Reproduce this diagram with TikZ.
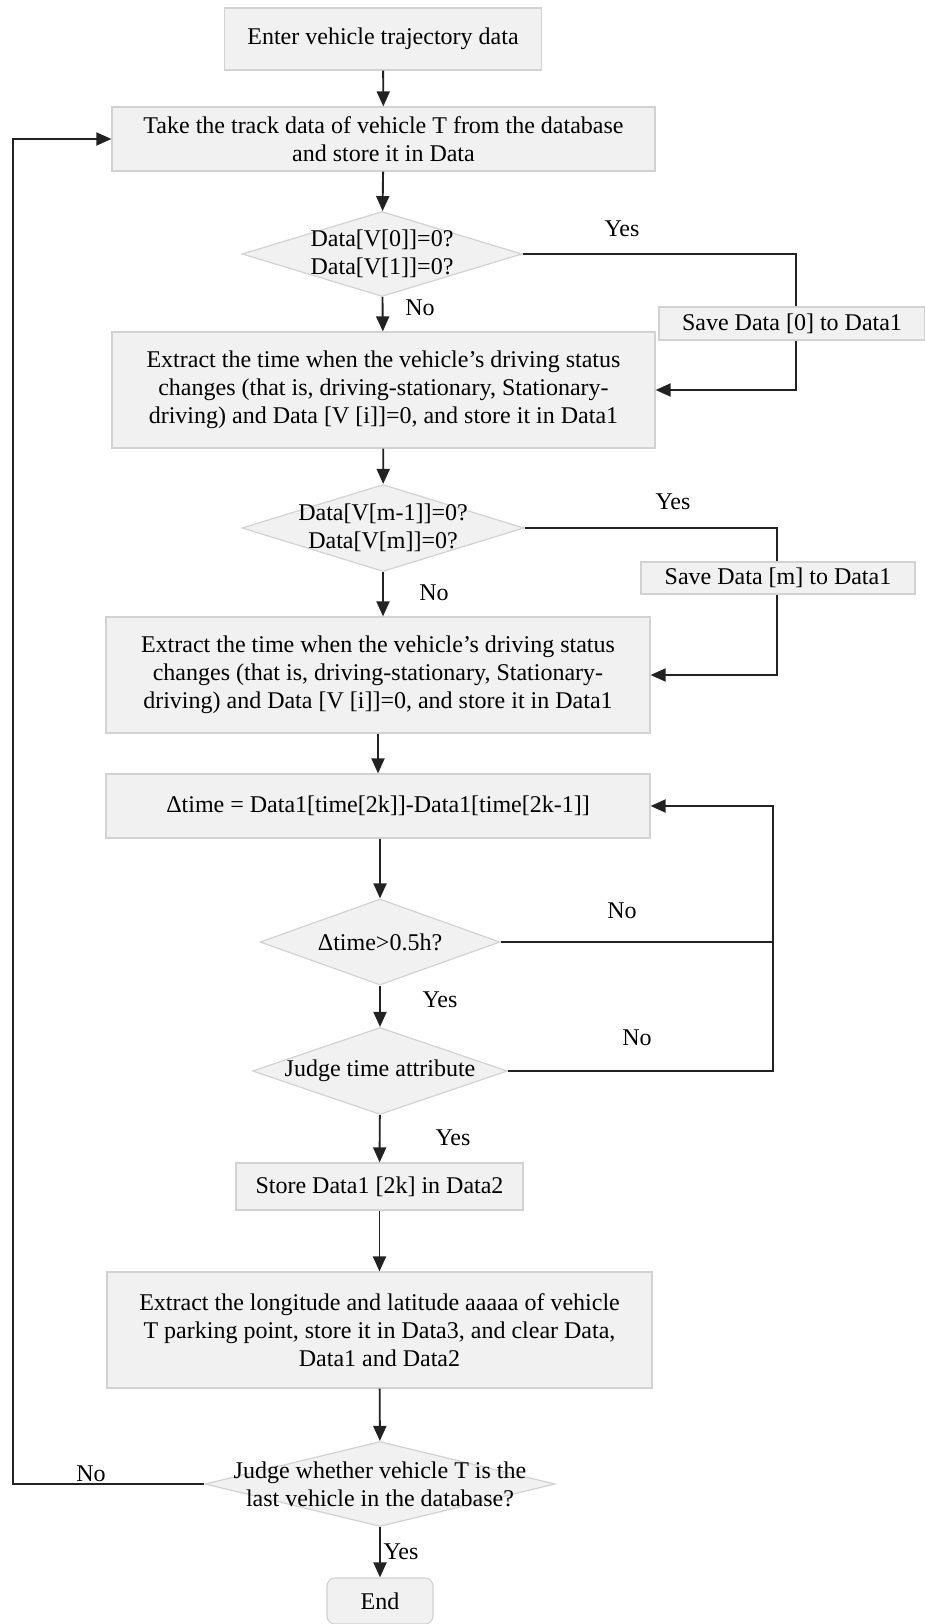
\documentclass[tikz,border=0pt]{standalone}
\usepackage{fontspec}
\setmainfont{Liberation Serif}
\usetikzlibrary{arrows.meta,shapes.geometric,positioning}
\definecolor{boxfill}{HTML}{F1F1F1}
\definecolor{boxline}{HTML}{D2D2D2}
\definecolor{flowline}{HTML}{222222}

\begin{document}
\begin{tikzpicture}[x=1pt, y=-1pt,
  every node/.style={font=\fontsize{24}{28}\selectfont},
  block/.style={rectangle,draw=boxline,fill=boxfill,line width=1.2pt,inner sep=0pt,align=center},
  decision/.style={diamond,draw=boxline,fill=boxfill,line width=1.2pt,inner sep=0pt},
  flow/.style={draw=flowline,line width=1.9pt,-{Triangle[length=15pt,width=13pt]}},
  plain/.style={draw=flowline,line width=1.9pt}]
\useasboundingbox (0,0) rectangle (925,1624);

\node[block,minimum width=317pt,minimum height=62pt] (enter) at (383,39) {Enter vehicle trajectory data};
\node[block,minimum width=543pt,minimum height=64pt] (take) at (383.5,139)
  {Take the track data of vehicle T from the database\\and store it in Data};
\node[decision,minimum width=280pt,minimum height=85pt,
  label={[align=center]center:{Data[V[0]]=0?\\Data[V[1]]=0?}}] (dzero) at (382,254) {};
\node[block,minimum width=543pt,minimum height=116pt] (extone) at (383.5,390)
  {Extract the time when the vehicle's driving status\\changes (that is, driving-stationary, Stationary-\\driving) and Data [V [i]]=0, and store it in Data1};
\node[decision,minimum width=282pt,minimum height=87pt,
  label={[align=center]center:{Data[V[m-1]]=0?\\Data[V[m]]=0?}}] (dm) at (383,528) {};
\node[block,minimum width=544pt,minimum height=116pt] (exttwo) at (378,675)
  {Extract the time when the vehicle's driving status\\changes (that is, driving-stationary, Stationary-\\driving) and Data [V [i]]=0, and store it in Data1};
\node[block,minimum width=544pt,minimum height=64pt] (delta) at (378,806)
  {Δtime = Data1[time[2k]]-Data1[time[2k-1]]};
\node[decision,minimum width=240pt,minimum height=86pt,
  label={center:{Δtime>0.5h?}}] (dtime) at (380,942) {};
\node[decision,minimum width=255pt,minimum height=87pt,
  label={center:{Judge time attribute}}] (dattr) at (380,1071) {};
\node[block,minimum width=287pt,minimum height=47pt] (store) at (379.5,1186.5) {Store Data1 [2k] in Data2};
\node[block,minimum width=545pt,minimum height=116pt] (extthree) at (379.5,1330)
  {Extract the longitude and latitude aaaaa of vehicle\\T parking point, store it in Data3, and clear Data,\\Data1 and Data2};
\node[decision,minimum width=350pt,minimum height=85pt,
  label={[align=center]center:{Judge whether vehicle T is the\\last vehicle in the database?}}] (dlast) at (380,1484) {};
\node[block,rounded corners=8pt,minimum width=106pt,minimum height=46pt] (end) at (380,1601) {End};

\coordinate (rzero) at (796,254);
\coordinate (rm) at (777,528);
\coordinate (rtime) at (773,1071);
\coordinate (back) at (13,1484);

\draw[flow] (enter) -- (take);
\draw[flow] (take) -- (dzero);
\draw[flow] (dzero) -- (extone);
\draw[flow] (extone) -- (dm);
\draw[flow] (dm.south) -- (dm.south |- exttwo.north);
\draw[flow] (exttwo) -- (delta);
\draw[flow] (delta.south -| dtime.north) -- (dtime.north);
\draw[flow] (dtime) -- (dattr);
\draw[flow] (dattr) -- (store);
\draw[flow] (store) -- (extthree);
\draw[flow] (extthree) -- (dlast);
\draw[flow] (dlast) -- (end);
\draw[flow] (dzero.east) -- (rzero) |- (extone.east);
\draw[flow] (dm.east) -- (rm) |- (exttwo.east);
\draw[plain] (dtime.east) -- (dtime.east -| rtime);
\draw[flow] (dattr.east) -- (rtime) |- (delta.east);
\draw[flow] (dlast.west) -- (back) |- (take.west);

\node[block,minimum width=266pt,minimum height=33pt] (savezero) at (792,323.5) {Save Data [0] to Data1};
\node[block,minimum width=274pt,minimum height=32pt] (savem) at (778,578) {Save Data [m] to Data1};

\node (yeszero) at (622,229) {Yes};
\node (nozero) at (420,308) {No};
\node (yesm) at (673,502) {Yes};
\node (nom) at (434,593) {No};
\node (notime) at (622,911) {No};
\node (yestime) at (440,1000) {Yes};
\node (noattr) at (637,1038) {No};
\node (yesattr) at (453,1138) {Yes};
\node (nolast) at (91,1474) {No};
\node (yeslast) at (401,1552) {Yes};
\end{tikzpicture}
\end{document}
